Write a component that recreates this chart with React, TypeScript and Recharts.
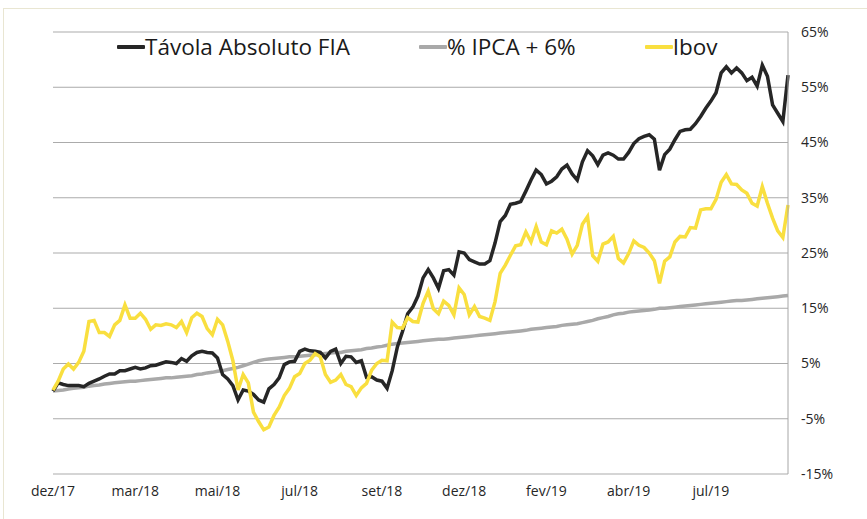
import React from "react";
import { LineChart, Line, XAxis, YAxis, CartesianGrid } from "recharts";

// weekly-ish points, index 0 = dez/17
const tavola = [
  0, 1.5, 1.2, 1.0, 1.0, 1.0, 0.8, 1.4, 1.8, 2.2,
  2.7, 3.1, 3.1, 3.7, 3.7, 4.0, 4.3, 4.0, 4.2, 4.6,
  4.7, 5.0, 5.3, 5.2, 5.0, 5.9, 5.4, 6.4, 7.0, 7.2,
  7.0, 6.9, 6.0, 3.0, 2.2, 1.0, -1.6, 0.2, 0.0, -0.6,
  -1.6, -2.0, 0.4, 1.2, 2.4, 4.8, 5.3, 5.4, 7.2, 7.6,
  7.3, 7.2, 7.0, 6.0, 7.2, 7.6, 5.0, 6.3, 6.2, 5.2,
  5.5, 2.5, 2.6, 2.0, 1.8, 0.5, 3.7, 8.0, 10.8, 14.0,
  15.2, 17.2, 20.5, 22.0, 20.5, 18.6, 21.8, 22.0, 21.0, 25.2,
  25.0, 23.8, 23.4, 23.0, 23.0, 23.6, 26.8, 30.7, 31.8, 33.8,
  34.0, 34.3, 36.2, 38.2, 40.0, 39.2, 37.5, 38.0, 38.8, 40.2,
  40.9, 39.3, 38.2, 41.5, 43.5, 42.6, 41.0, 42.7, 43.1, 42.7,
  42.0, 42.0, 43.2, 44.8, 45.7, 46.1, 46.4, 45.6, 40.0, 42.8,
  43.8, 45.5, 47.0, 47.3, 47.4, 48.4, 49.7, 51.2, 52.5, 54.0,
  57.6, 58.7, 57.6, 58.5, 57.6, 56.2, 56.8, 55.2, 59.0, 57.0,
  51.8, 50.3, 48.8, 57.2,
];

const ipca = [
  0, 0.1, 0.2, 0.4, 0.5, 0.6, 0.7, 0.9, 1.0, 1.1,
  1.3, 1.4, 1.5, 1.6, 1.7, 1.8, 1.8, 1.9, 2.0, 2.1,
  2.2, 2.3, 2.4, 2.4, 2.5, 2.6, 2.7, 2.8, 3.0, 3.1,
  3.3, 3.4, 3.6, 3.7, 3.9, 4.1, 4.3, 4.6, 4.9, 5.2,
  5.5, 5.7, 5.8, 5.9, 6.0, 6.1, 6.2, 6.2, 6.3, 6.4,
  6.5, 6.6, 6.7, 6.8, 6.9, 7.0, 7.0, 7.2, 7.3, 7.4,
  7.5, 7.7, 7.8, 8.0, 8.1, 8.3, 8.5, 8.6, 8.7, 8.8,
  8.9, 9.0, 9.1, 9.2, 9.3, 9.4, 9.4, 9.5, 9.6, 9.7,
  9.8, 9.9, 10.0, 10.1, 10.2, 10.3, 10.4, 10.5, 10.6, 10.7,
  10.8, 10.9, 11.0, 11.2, 11.3, 11.4, 11.5, 11.6, 11.7, 11.9,
  12.0, 12.1, 12.2, 12.4, 12.6, 12.8, 13.1, 13.3, 13.5, 13.8,
  14.0, 14.1, 14.3, 14.4, 14.5, 14.6, 14.7, 14.8, 15.0, 15.0,
  15.1, 15.2, 15.3, 15.4, 15.5, 15.6, 15.7, 15.8, 15.9, 16.0,
  16.1, 16.2, 16.3, 16.4, 16.4, 16.5, 16.6, 16.7, 16.8, 16.9,
  17.0, 17.1, 17.2, 17.3,
];

const ibov = [
  0.2, 1.8, 4.0, 4.9, 4.0, 5.2, 7.2, 12.6, 12.8, 10.6,
  10.6, 9.9, 12.0, 12.8, 15.6, 13.2, 13.2, 14.1, 13.0, 11.2,
  12.0, 11.9, 12.2, 12.0, 11.5, 12.6, 10.6, 13.3, 14.1, 13.5,
  11.3, 10.2, 13.0, 12.0, 9.0, 5.5, 0.2, 3.0, 1.5, -3.8,
  -5.5, -7.0, -6.5, -4.4, -2.9, -0.8, 0.5, 2.6, 3.2, 5.0,
  5.6, 6.8, 6.2, 3.0, 1.6, 2.0, 3.0, 1.2, 0.8, -0.8,
  0.6, 1.4, 3.8, 5.0, 5.6, 5.5, 12.5, 11.5, 11.4, 13.3,
  12.6, 12.5, 15.9, 18.1, 14.9, 14.0, 16.3, 15.5, 13.8, 18.7,
  17.5, 13.8, 15.3, 13.5, 13.2, 12.8, 16.2, 21.3, 22.8, 24.6,
  26.3, 26.5, 28.8, 27.0, 29.8, 27.0, 26.5, 29.0, 28.6, 29.3,
  27.5, 24.8, 26.4, 30.2, 31.6, 24.5, 23.5, 26.6, 27.0, 28.0,
  24.0, 23.2, 24.9, 27.2, 26.4, 26.0, 25.0, 23.6, 19.5, 23.5,
  24.3, 27.0, 28.0, 27.9, 29.6, 29.5, 32.8, 33.0, 33.0, 34.7,
  37.8, 39.2, 37.5, 37.4, 36.4, 35.8, 34.0, 33.5, 37.0, 34.0,
  31.3, 29.0, 27.8, 33.7,
];

const xTickLabels = ["dez/17", "mar/18", "mai/18", "jul/18", "set/18", "dez/18", "fev/19", "abr/19", "jul/19"];
const labelEvery = 16;
const xTicks = xTickLabels.map((_, k) => k * labelEvery);
const yTicks = [-15, -5, 5, 15, 25, 35, 45, 55, 65];

const seriesNames = ["Távola Absoluto FIA", "% IPCA + 6%", "Ibov"];
const colors = {
  tavola: "#262626",
  ipca: "#a9a9a9",
  ibov: "#f9df3f",
};

const data = tavola.map((v, i) => ({
  i,
  tavola: v,
  ipca: ipca[i],
  ibov: ibov[i],
}));

const font = "'Open Sans', sans-serif";

// legend drawn as an overlay so it does not push the plot area down
const ChartLegend = () => {
  const items = [
    { name: seriesNames[0], color: colors.tavola },
    { name: seriesNames[1], color: colors.ipca },
    { name: seriesNames[2], color: colors.ibov },
  ];
  return (
    <div
      style={{
        position: "absolute",
        left: 117,
        top: 33,
        display: "flex",
        gap: 69,
        fontFamily: font,
        whiteSpace: "nowrap",
      }}
    >
      {items.map((it) => (
        <div key={it.name} style={{ display: "flex", alignItems: "center" }}>
          <div style={{ width: 28, height: 4, background: it.color, borderRadius: 1 }} />
          <span style={{ fontSize: 22.5, color: "#1a1a1a", lineHeight: "28px" }}>{it.name}</span>
        </div>
      ))}
    </div>
  );
};

export default function App() {
  return (
    <div style={{ position: "absolute", left: 0, top: 0, width: 867, height: 519, background: "#fff", overflow: "hidden" }}>
      <div
        style={{
          position: "absolute",
          left: 3,
          top: 8,
          width: 870,
          height: 520,
          borderTop: "1px solid #e9e6d2",
          borderLeft: "1px solid #e9e6d2",
        }}
      />
      <div style={{ position: "absolute", left: 0, top: 0 }}>
        <LineChart width={867} height={519} data={data} margin={{ top: 32, left: 53, right: 0, bottom: 0 }}>
          <CartesianGrid vertical={false} stroke="#ababab" strokeWidth={1} />
          <XAxis
            dataKey="i"
            type="number"
            domain={[0, tavola.length - 1]}
            ticks={xTicks}
            tickFormatter={(v: number) => xTickLabels[v / labelEvery]}
            axisLine={false}
            tickLine={false}
            tickSize={0}
            tickMargin={12}
            height={45}
            tick={{ fill: "#262626", fontSize: 14, fontFamily: font }}
          />
          <YAxis
            orientation="right"
            domain={[-15, 65]}
            ticks={yTicks}
            tickFormatter={(v: number) => `${v}%`}
            axisLine={{ stroke: "#a6a6a6" }}
            tickLine={false}
            tickSize={6}
            tickMargin={7}
            width={79}
            tick={{ fill: "#262626", fontSize: 14, fontFamily: font, textAnchor: "start" }}
          />
          <Line type="linear" dataKey="ipca" stroke={colors.ipca} strokeWidth={3.5} dot={false} isAnimationActive={false} />
          <Line type="linear" dataKey="tavola" stroke={colors.tavola} strokeWidth={3.5} dot={false} isAnimationActive={false} />
          <Line type="linear" dataKey="ibov" stroke={colors.ibov} strokeWidth={3.5} dot={false} isAnimationActive={false} />
        </LineChart>
      </div>
      <ChartLegend />
    </div>
  );
}
